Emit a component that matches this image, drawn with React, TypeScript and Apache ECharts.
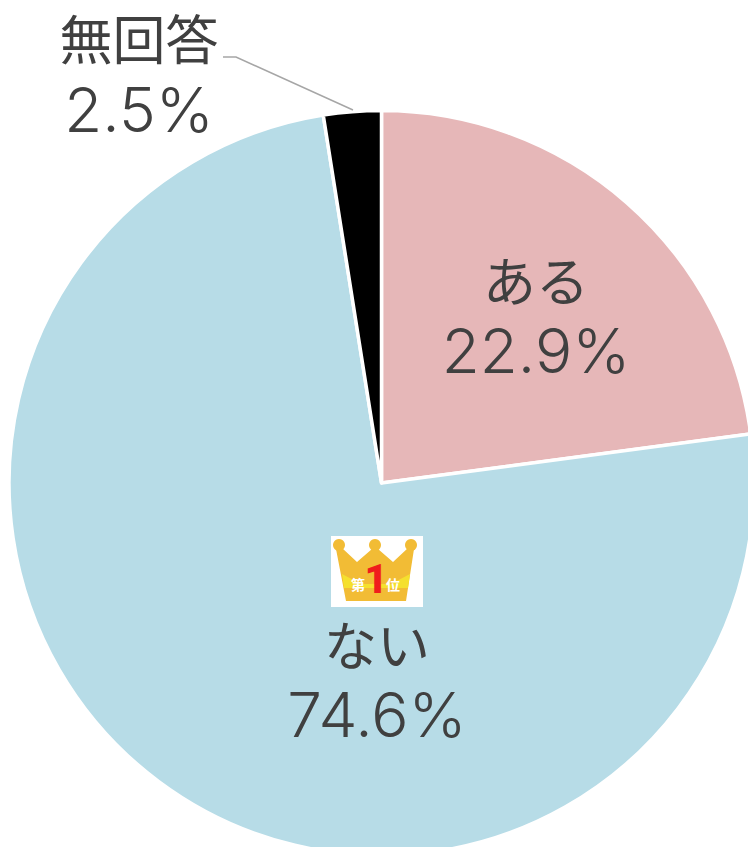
import React, { useEffect, useRef } from "react";
import * as echarts from "echarts";

const categories = ["ある", "ない", "無回答"];
const values = [22.9, 74.6, 2.5];
const colors = ["#e6b7b8", "#b7dce7", "#000000"];
const labelCentres = [
  [536, 314.5],
  [377, 678.5],
  [139, 73],
];

const crownX = 331;
const crownY = 536;

export default function App() {
  const ref = useRef<HTMLDivElement>(null);
  useEffect(() => {
    const chart = echarts.init(ref.current!, null, { renderer: "svg" });
    const font = '"Noto Sans CJK JP", "Noto Sans", sans-serif';
    const z = 10;
    chart.setOption({
      animation: false,
      backgroundColor: "#ffffff",
      color: colors,
      series: [
        {
          type: "pie",
          center: [381.5, 483],
          radius: [0, 372.5],
          startAngle: 90,
          clockwise: true,
          silent: true,
          itemStyle: { borderColor: "#ffffff", borderWidth: 3.5 },
          labelLine: { show: false },
          label: {
            show: true,
            position: "outside",
            overflow: "none",
            alignTo: "none",
            formatter: (p: any) => `{n|${p.name}}\n{v|${p.value}%}`,
            rich: {
              n: { fontFamily: font, fontSize: 53, fontWeight: 400, color: "#404040", lineHeight: 72, align: "center" },
              v: { fontFamily: "Inter", fontSize: 62, fontWeight: 300, color: "#404040", lineHeight: 72, align: "center" },
            },
          },
          labelLayout: (p: any) => ({
            x: labelCentres[p.dataIndex][0],
            y: labelCentres[p.dataIndex][1],
            align: "center",
            verticalAlign: "middle",
            hideOverlap: false,
          }),
          data: categories.map((name, i) => ({ name, value: values[i] })),
        },
      ],
      graphic: [
        {
          type: "polyline",
          silent: true,
          z,
          shape: { points: [[223, 57], [236, 57], [353, 110]] },
          style: { stroke: "#a6a6a6", lineWidth: 1.5, fill: "none" },
        },
        {
          type: "group",
          x: crownX,
          y: crownY,
          silent: true,
          children: [
            { type: "rect", z, shape: { x: 0, y: 0, width: 92, height: 71 }, style: { fill: "#ffffff" } },
            { type: "polygon", z, shape: { points: [[5, 13], [11, 12], [26, 26], [41, 13], [47, 13], [62, 26], [77, 12], [83, 13], [75, 65], [15, 65]] }, style: { fill: "#f2bc35" } },
            { type: "polygon", z, shape: { points: [[11, 38], [30, 48], [60, 48], [79, 38], [77, 52], [13, 52]] }, style: { fill: "#f5e02e" } },
            { type: "circle", z, shape: { cx: 8, cy: 9, r: 6 }, style: { fill: "#f2bc35" } },
            { type: "circle", z, shape: { cx: 44, cy: 9, r: 6 }, style: { fill: "#f2bc35" } },
            { type: "circle", z, shape: { cx: 80, cy: 9, r: 6 }, style: { fill: "#f2bc35" } },
            { type: "text", z, x: 27, y: 48, style: { text: "第", fontFamily: font, fontSize: 14, fontWeight: 700, fill: "#ffffff", align: "center", verticalAlign: "middle" } },
            { type: "text", z, x: 62, y: 48, style: { text: "位", fontFamily: font, fontSize: 14, fontWeight: 700, fill: "#ffffff", align: "center", verticalAlign: "middle" } },
            { type: "text", z, x: 45, y: 43, style: { text: "1", fontFamily: "Roboto", fontSize: 40, fontWeight: 900, fill: "#f01c1c", align: "center", verticalAlign: "middle" } },
          ],
        },
      ],
    });
    return () => chart.dispose();
  }, []);
  return <div ref={ref} style={{ position: "fixed", left: 0, top: 0, width: 748, height: 847 }} />;
}
